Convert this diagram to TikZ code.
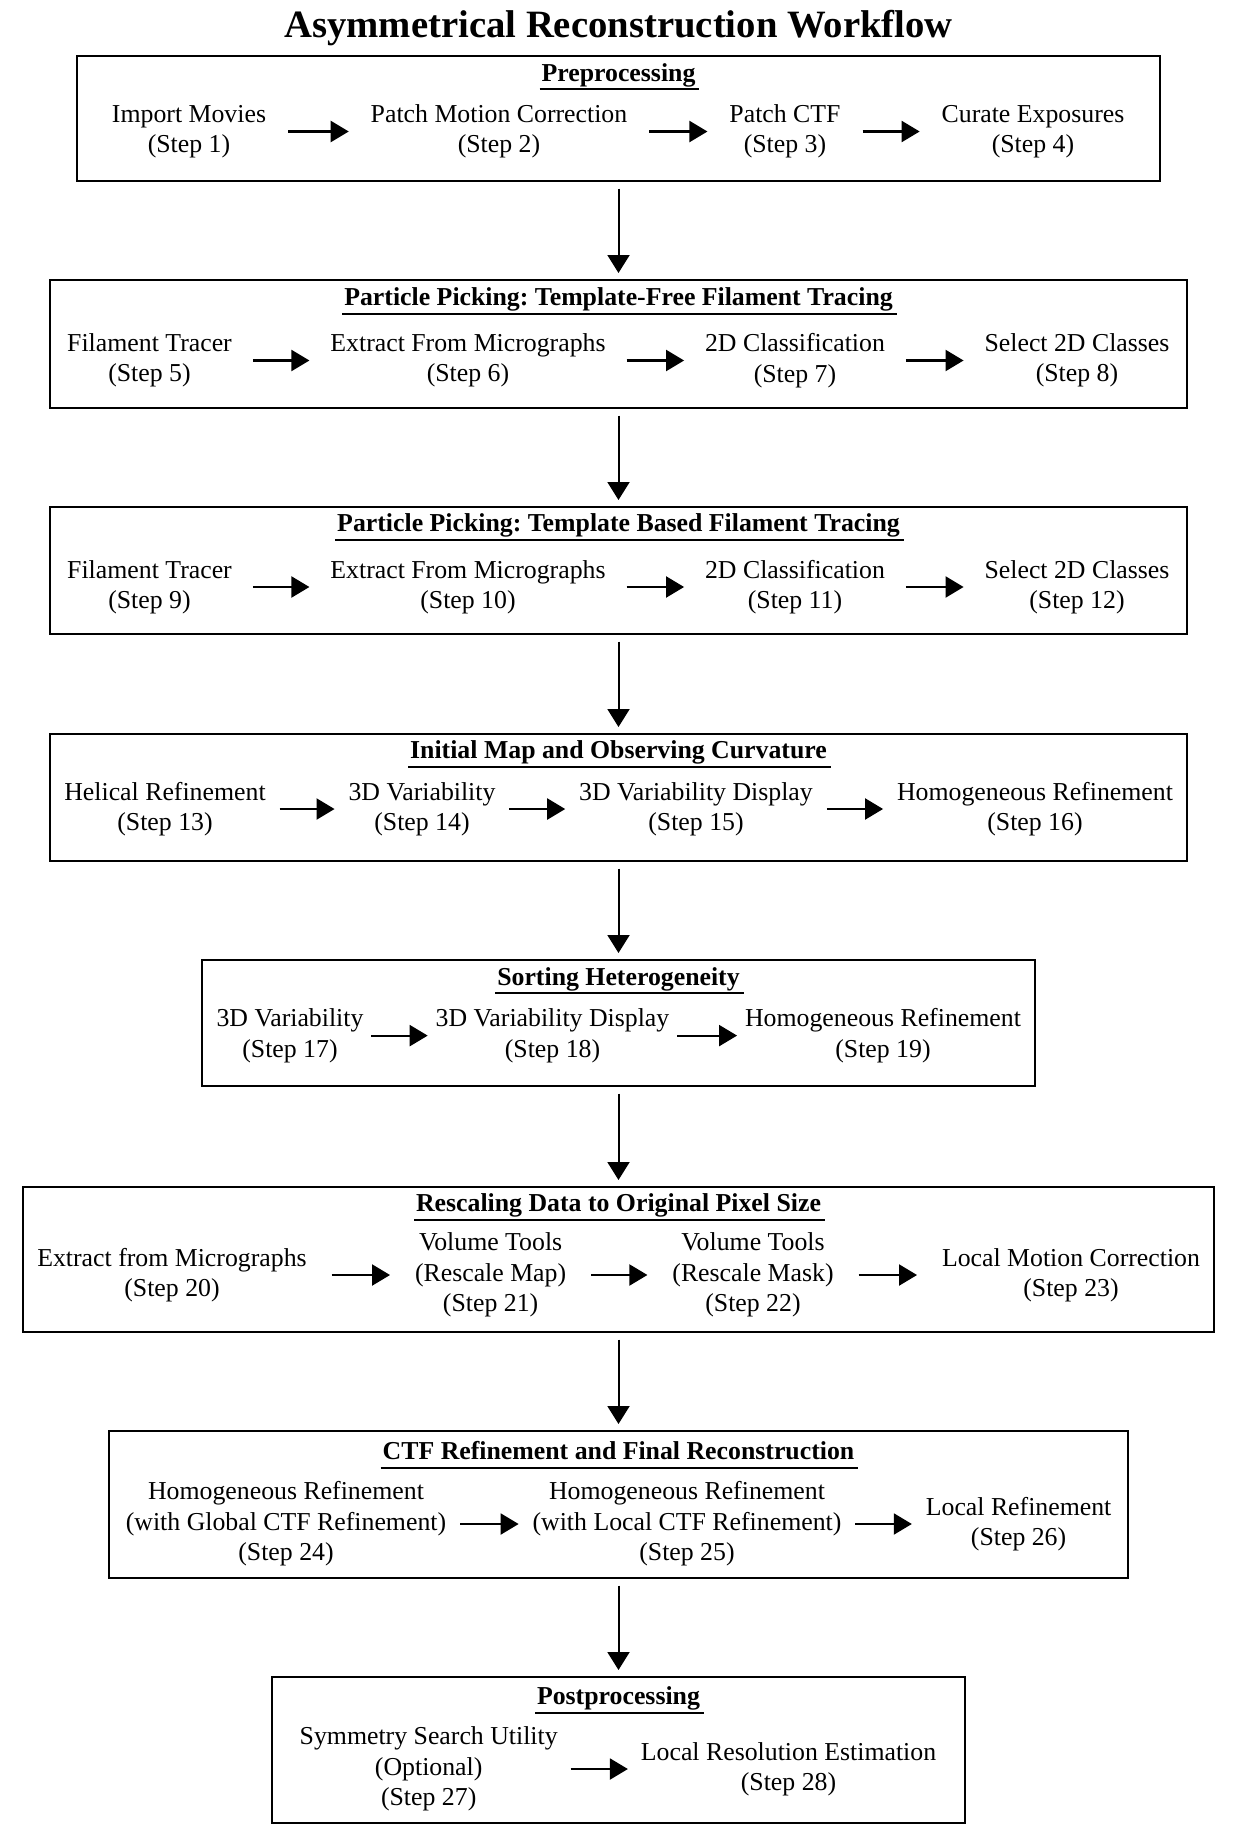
\documentclass[tikz,border=0pt]{standalone}
\usepackage{fontspec}
\setmainfont{Liberation Serif}
\usetikzlibrary{arrows.meta}
\newcommand\wfbody{\fontsize{12.9pt}{15.2pt}\selectfont\frenchspacing}
\newcommand\wftitle{\fontsize{19.35pt}{23pt}\selectfont\bfseries}
\begin{document}
\begin{tikzpicture}[x=0.5pt,y=-0.5pt,
  stage/.style={draw, line width=1pt, inner sep=0pt, outer sep=0pt},
  wfstep/.style={align=center, font=\wfbody, inner ysep=0pt, outer sep=0pt, yshift=-1.5pt},
  hdr/.style={font=\wfbody\bfseries, inner sep=0pt, outer sep=0pt, yshift=-1.2pt},
  harrow/.style={-{Triangle[length=9pt,width=10.5pt]}, line width=1.05pt},
  varrow/.style={-{Triangle[length=9pt,width=11pt]}, line width=1pt, shorten <=3.75pt, shorten >=3.5pt},
  uline/.style={line width=1pt}
]
\useasboundingbox (0,0) rectangle (1237,1832);

% title
\node[font=\wftitle, inner sep=0pt, yshift=-1.2pt] (title) at (618.5,26) {Asymmetrical Reconstruction Workflow};

% stage boxes
\node[stage, minimum width=541.5pt, minimum height=62.5pt] (b1) at (618.5,118.5) {};
\node[stage, minimum width=568.5pt, minimum height=64pt] (b2) at (618.5,344) {};
\node[stage, minimum width=568.5pt, minimum height=63.5pt] (b3) at (618.5,570.5) {};
\node[stage, minimum width=568.5pt, minimum height=63.5pt] (b4) at (618.5,797.5) {};
\node[stage, minimum width=416.5pt, minimum height=63pt] (b5) at (618.5,1023) {};
\node[stage, minimum width=595.5pt, minimum height=72.5pt] (b6) at (618.5,1259.5) {};
\node[stage, minimum width=509.5pt, minimum height=73.5pt] (b7) at (618.5,1504.5) {};
\node[stage, minimum width=346.5pt, minimum height=73pt] (b8) at (618.5,1750) {};

% headers
\node[hdr] (h1) at (618.5,72.5) {Preprocessing\vphantom{g}};
\node[hdr] (h2) at (618.5,297) {Particle Picking: Template-Free Filament Tracing\vphantom{g}};
\node[hdr] (h3) at (618.5,523) {Particle Picking: Template Based Filament Tracing\vphantom{g}};
\node[hdr] (h4) at (618.5,750) {Initial Map and Observing Curvature\vphantom{g}};
\node[hdr] (h5) at (618.5,976.5) {Sorting Heterogeneity\vphantom{g}};
\node[hdr] (h6) at (618.5,1203) {Rescaling Data to Original Pixel Size\vphantom{g}};
\node[hdr] (h7) at (618.5,1451) {CTF Refinement and Final Reconstruction\vphantom{g}};
\node[hdr] (h8) at (618.5,1696) {Postprocessing\vphantom{g}};
\foreach \h in {h1,h2,h3,h4,h5,h6,h7,h8}
  \draw[uline] ([xshift=-1pt,yshift=-1.3pt]\h.south west) -- ([xshift=2pt,yshift=-1.3pt]\h.south east);

% row 1
\begin{scope}[every node/.append style={inner xsep=11pt}]
\node[wfstep] (s1) at (189,128.5) {Import Movies\\(Step 1)};
\node[wfstep] (s2) at (499,128.5) {Patch Motion Correction\\(Step 2)};
\node[wfstep] (s3) at (785,128.5) {Patch CTF\\(Step 3)};
\node[wfstep] (s4) at (1033,128.5) {Curate Exposures\\(Step 4)};
\end{scope}
% row 2
\begin{scope}[every node/.append style={inner xsep=10.5pt}]
\node[wfstep] (s5) at (149.5,357.5) {Filament Tracer\\(Step 5)};
\node[wfstep] (s6) at (468,357.5) {Extract From Micrographs\\(Step 6)};
\node[wfstep] (s7) at (795,357.5) {2D Classification\\(Step 7)};
\node[wfstep] (s8) at (1077,357.5) {Select 2D Classes\\(Step 8)};
\end{scope}
% row 3
\begin{scope}[every node/.append style={inner xsep=10.5pt}]
\node[wfstep] (s9) at (149.5,584) {Filament Tracer\\(Step 9)};
\node[wfstep] (s10) at (468,584) {Extract From Micrographs\\(Step 10)};
\node[wfstep] (s11) at (795,584) {2D Classification\\(Step 11)};
\node[wfstep] (s12) at (1077,584) {Select 2D Classes\\(Step 12)};
\end{scope}
% row 4
\begin{scope}[every node/.append style={inner xsep=7pt}]
\node[wfstep] (s13) at (165,806) {Helical Refinement\\(Step 13)};
\node[wfstep] (s14) at (422,806) {3D Variability\\(Step 14)};
\node[wfstep] (s15) at (696,806) {3D Variability Display\\(Step 15)};
\node[wfstep] (s16) at (1035,806) {Homogeneous Refinement\\(Step 16)};
\end{scope}
% row 5
\begin{scope}[every node/.append style={inner xsep=4pt}]
\node[wfstep] (s17) at (290,1032.6) {3D Variability\\(Step 17)};
\node[wfstep] (s18) at (552.5,1032.6) {3D Variability Display\\(Step 18)};
\node[wfstep] (s19) at (883,1032.6) {Homogeneous Refinement\\(Step 19)};
\end{scope}
% row 6
\begin{scope}[every node/.append style={inner xsep=12.5pt}]
\node[wfstep] (s20) at (172,1272) {Extract from Micrographs\\(Step 20)};
\node[wfstep] (s21) at (490.6,1272) {Volume Tools\\(Rescale Map)\\(Step 21)};
\node[wfstep] (s22) at (753,1272) {Volume Tools\\(Rescale Mask)\\(Step 22)};
\node[wfstep] (s23) at (1071,1272) {Local Motion Correction\\(Step 23)};
\end{scope}
% row 7
\begin{scope}[every node/.append style={inner xsep=7pt}]
\node[wfstep] (s24) at (286,1521) {Homogeneous Refinement\\(with Global CTF Refinement)\\(Step 24)};
\node[wfstep] (s25) at (687,1521) {Homogeneous Refinement\\(with Local CTF Refinement)\\(Step 25)};
\node[wfstep] (s26) at (1018.6,1521) {Local Refinement\\(Step 26)};
\end{scope}
% row 8
\begin{scope}[every node/.append style={inner xsep=6.5pt}]
\node[wfstep] (s27) at (428.7,1766) {Symmetry Search Utility\\(Optional)\\(Step 27)};
\node[wfstep] (s28) at (788.5,1766) {Local Resolution Estimation\\(Step 28)};
\end{scope}

% horizontal arrows
\foreach \a/\b in {s1/s2,s2/s3,s3/s4,s5/s6,s6/s7,s7/s8,s9/s10,s10/s11,s11/s12,
  s13/s14,s14/s15,s15/s16,s17/s18,s18/s19,s20/s21,s21/s22,s22/s23,s24/s25,s25/s26,s27/s28}
  \draw[harrow] (\a) -- (\b);

% vertical arrows
\foreach \a/\b in {b1/b2,b2/b3,b3/b4,b4/b5,b5/b6,b6/b7,b7/b8}
  \draw[varrow] (\a) -- (\b);
\end{tikzpicture}
\end{document}
